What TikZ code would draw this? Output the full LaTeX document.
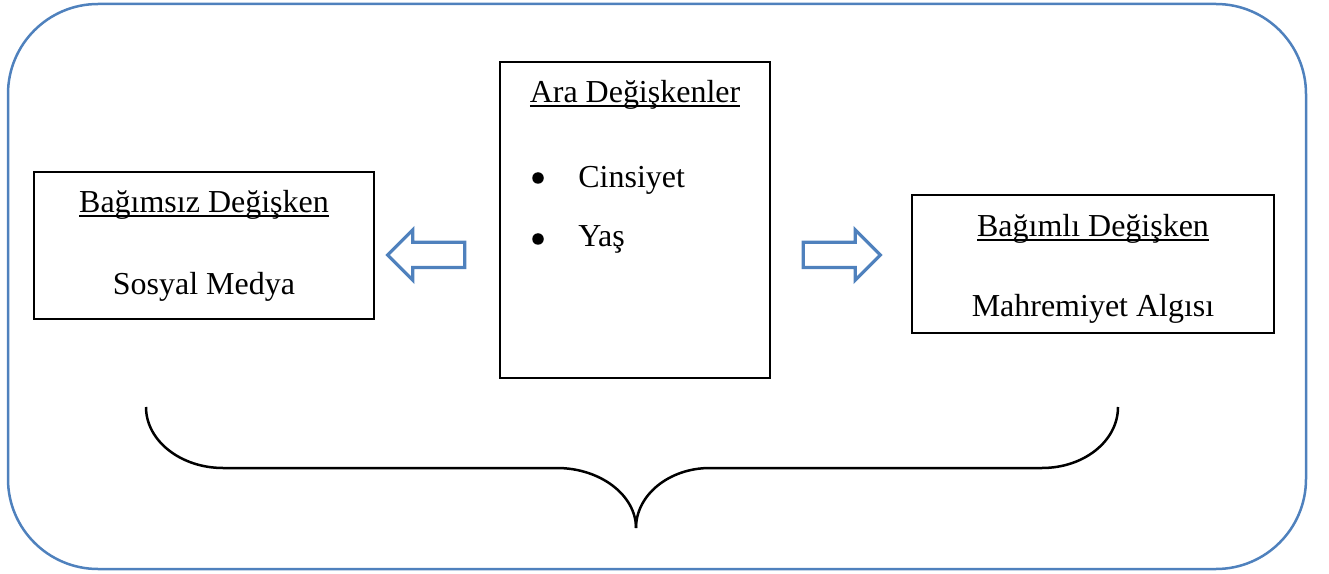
\documentclass[tikz,border=0pt]{standalone}
\usepackage{fontspec}
\setmainfont{LiberationSerif}[Extension=.ttf, UprightFont=*-Regular, BoldFont=*-Bold]
\usepackage{xcolor}
\usepackage{tikz}
\usetikzlibrary{shapes,arrows.meta,positioning}

\definecolor{frameblue}{RGB}{79,129,189}

\newlength\ulwidth
\newcommand\ulined[1]{\settowidth\ulwidth{#1}\makebox[0pt][l]{\rule[-2.4pt]{\ulwidth}{1.1pt}}#1}

\begin{document}
\begin{tikzpicture}[
    x=0.2mm, y=-0.2mm,
    frame/.style={draw=frameblue, line width=0.5mm, rounded corners=18mm},
    varbox/.style={rectangle, draw, line width=0.4mm, inner sep=0pt},
    vartext/.style={font=\fontsize{18.2}{22}\selectfont, inner sep=0pt, anchor=base},
    dot/.style={circle, fill, inner sep=0pt, minimum size=2.3mm},
    blockarrow/.style={single arrow, draw=frameblue, line width=0.65mm, inner sep=2.2mm, minimum width=9.2mm, minimum height=15.4mm},
    brace/.style={draw, line width=0.5mm}
]
\useasboundingbox (0,0) rectangle (1329,574);

% outer frame
\draw[frame] (8,4) rectangle (1306,569);

% boxes
\node[varbox, minimum width=68mm, minimum height=29.4mm] (indep) at (204,245.5) {};
\node[varbox, minimum width=54mm, minimum height=63.2mm] (mediator) at (635,220) {};
\node[varbox, minimum width=72.4mm, minimum height=27.6mm] (dep) at (1093,264) {};

% texts
\node[vartext] (indeptitle) at (204,213) {\ulined{Bağımsız Değişken}};
\node[vartext] (indepname) at (204,295) {Sosyal Medya};
\node[vartext] (medtitle) at (635,103) {\ulined{Ara Değişkenler}};
\node[dot] (bulleta) at (538,178) {};
\node[vartext, anchor=base west] (gender) at (578,188) {Cinsiyet};
\node[dot] (bulletb) at (538,239) {};
\node[vartext, anchor=base west] (age) at (578,247) {Yaş};
\node[vartext] (deptitle) at (1093,237) {\ulined{Bağımlı Değişken}};
\node[vartext] (depname) at (1093,317) {Mahremiyet Algısı};

% block arrows
\node[blockarrow, shape border rotate=180] (leftarrow) at (432.5,255) {};
\node[blockarrow] (rightarrow) at (835.5,255) {};

% brace
\coordinate (braceL) at (146,407);
\coordinate (braceR) at (1118,407);
\coordinate (braceTip) at (636,528);
\draw[brace] (braceL) .. controls (146,441) and (181,468) .. (223,468) -- (557,468)
    .. controls (600,468) and (636,495) .. (braceTip);
\draw[brace] (braceR) .. controls (1118,441) and (1084,468) .. (1042,468) -- (710,468)
    .. controls (669,468) and (636,495) .. (braceTip);

\end{tikzpicture}
\end{document}
